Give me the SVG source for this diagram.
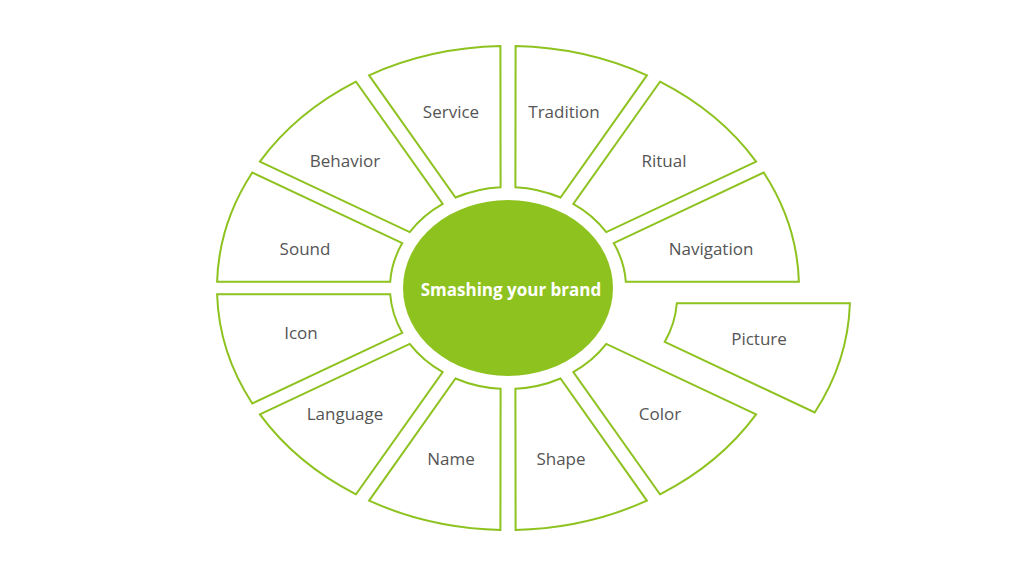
<svg xmlns="http://www.w3.org/2000/svg" width="1024" height="576" viewBox="0 0 1024 576">
<style>
.s{fill:#fff;stroke:#8dc21f;stroke-width:2;stroke-linejoin:miter}
.t{font-family:"Open Sans","Liberation Sans",sans-serif;font-size:17px;fill:#555;text-anchor:middle;dominant-baseline:central}
</style>
<rect width="1024" height="576" fill="#fff"/>
<g id="connectors"></g>
<g id="navigation"><path class="s" d="M798.9 281.7A291 242 0 0 0 763.7 172.5L613.7 243.1A118 101 0 0 1 625.8 281.7Z"/><text class="t" x="711" y="248">Navigation</text></g>
<g id="ritual"><path class="s" d="M756.1 161.6A291 242 0 0 0 660 81.7L573.3 203.9A118 101 0 0 1 606.3 232.1Z"/><text class="t" x="664" y="160">Ritual</text></g>
<g id="tradition"><path class="s" d="M646.9 75.3A291 242 0 0 0 515.6 46.1L515.4 187.2A118 101 0 0 1 560.5 197.5Z"/><text class="t" x="564" y="111">Tradition</text></g>
<g id="service"><path class="s" d="M500.4 46.1A291 242 0 0 0 369.1 75.3L455.5 197.5A118 101 0 0 1 500.6 187.2Z"/><text class="t" x="451" y="111">Service</text></g>
<g id="behavior"><path class="s" d="M356 81.7A291 242 0 0 0 259.9 161.6L409.7 232.1A118 101 0 0 1 442.7 203.9Z"/><text class="t" x="345" y="160">Behavior</text></g>
<g id="sound"><path class="s" d="M252.3 172.5A291 242 0 0 0 217.1 281.7L390.2 281.7A118 101 0 0 1 402.3 243.1Z"/><text class="t" x="305" y="248">Sound</text></g>
<g id="icon"><path class="s" d="M217.1 294.3A291 242 0 0 0 252.3 403.5L402.3 332.9A118 101 0 0 1 390.2 294.3Z"/><text class="t" x="301" y="332">Icon</text></g>
<g id="language"><path class="s" d="M259.9 414.4A291 242 0 0 0 356 494.3L442.7 372.1A118 101 0 0 1 409.7 343.9Z"/><text class="t" x="345" y="413">Language</text></g>
<g id="name"><path class="s" d="M369.1 500.7A291 242 0 0 0 500.4 529.9L500.6 388.8A118 101 0 0 1 455.5 378.5Z"/><text class="t" x="451" y="458">Name</text></g>
<g id="shape"><path class="s" d="M515.6 529.9A291 242 0 0 0 646.9 500.7L560.5 378.5A118 101 0 0 1 515.4 388.8Z"/><text class="t" x="561" y="458">Shape</text></g>
<g id="color"><path class="s" d="M660 494.3A291 242 0 0 0 756.1 414.4L606.3 343.9A118 101 0 0 1 573.3 372.1Z"/><text class="t" x="660" y="413">Color</text></g>
<g id="picture"><path class="s" transform="translate(51,9)" d="M763.7 403.5A291 242 0 0 0 798.9 294.3L625.8 294.3A118 101 0 0 1 613.7 332.9Z"/><text class="t" x="759" y="338">Picture</text></g>
<g id="center"><ellipse cx="508" cy="288" rx="105" ry="88" fill="#8dc21f"/><text class="t" x="511" y="289" style="fill:#fff;font-weight:bold">Smashing your brand</text></g>
</svg>
